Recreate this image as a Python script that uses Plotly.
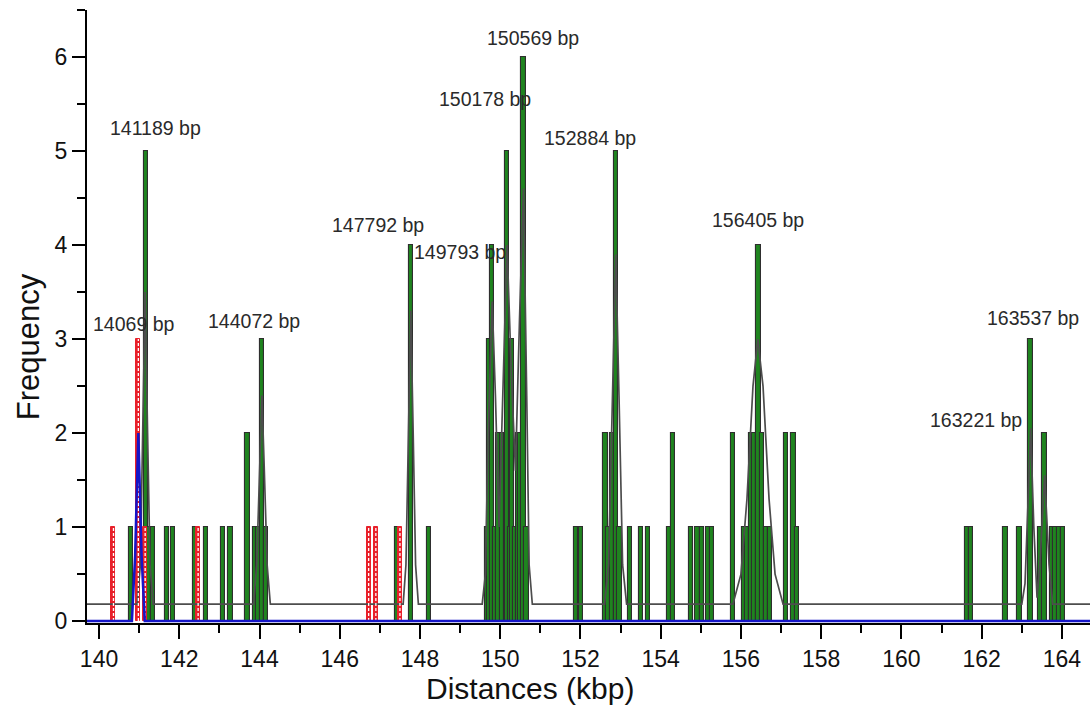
import plotly.graph_objects as go

# ---- data ----
green_x = [140.79, 141.17, 141.23, 141.34, 141.69, 141.85, 142.39, 142.67, 143.09, 143.28,
           143.70, 143.89, 143.97, 144.06, 144.16, 147.42, 147.77, 148.22,
           149.67, 149.72, 149.80, 149.88, 149.96, 150.04, 150.17, 150.24, 150.30, 150.38,
           150.45, 150.51, 150.58, 150.65,
           151.89, 152.01, 152.62, 152.70, 152.78, 152.89, 152.97, 153.24, 153.51, 153.68,
           154.22, 154.31, 154.75, 154.92, 155.03, 155.19, 155.28, 155.80, 156.07, 156.15,
           156.25, 156.33, 156.44, 156.52, 156.63, 156.73, 157.12, 157.31, 157.40,
           161.64, 161.74, 162.59, 162.94, 163.22, 163.47, 163.57, 163.76, 163.84, 163.92, 164.03]
green_y = [1, 5, 1, 1, 1, 1, 1, 1, 1, 1,
           2, 1, 1, 3, 1, 1, 4, 1,
           1, 3, 4, 1, 2, 2, 5, 1, 3, 1,
           2, 2, 6, 1,
           1, 1, 2, 1, 2, 5, 1, 1, 1, 1,
           1, 2, 1, 1, 1, 1, 1, 2, 1, 1,
           2, 2, 4, 2, 1, 1, 2, 2, 1,
           1, 1, 1, 1, 3, 1, 2, 1, 1, 1, 1]

red_x = [140.36, 140.98, 141.15, 142.47, 146.72, 146.90, 147.50]
red_y = [1, 3, 1, 1, 1, 1, 1]

fit_x = [139.7, 140.95, 141.03, 141.09, 141.15, 141.21, 141.27, 141.35,
         143.85, 143.93, 144.0, 144.06, 144.12, 144.19, 144.27,
         147.58, 147.65, 147.71, 147.77, 147.83, 147.89, 147.96,
         149.55, 149.63, 149.70, 149.80, 149.88, 149.97, 150.05, 150.17, 150.28, 150.38,
         150.48, 150.58, 150.66, 150.72, 150.80,
         152.60, 152.70, 152.80, 152.88, 152.96, 153.05, 153.15,
         155.80, 156.00, 156.15, 156.30, 156.42, 156.55, 156.70, 156.85, 157.05,
         163.00, 163.08, 163.15, 163.22, 163.30, 163.38, 163.45, 163.57, 163.68, 163.77, 164.70]
fit_y = [0.18, 0.18, 0.6, 2.0, 3.5, 2.0, 0.6, 0.18,
         0.18, 0.6, 1.6, 2.4, 1.6, 0.6, 0.18,
         0.18, 0.6, 2.0, 3.3, 2.0, 0.6, 0.18,
         0.18, 0.5, 2.0, 3.4, 2.4, 1.0, 2.2, 4.0, 2.6, 1.6,
         3.2, 4.6, 2.4, 0.6, 0.18,
         0.18, 0.6, 2.4, 3.9, 2.4, 0.6, 0.18,
         0.18, 0.5, 1.3, 2.5, 3.0, 2.5, 1.3, 0.5, 0.18,
         0.18, 0.4, 1.2, 2.05, 1.0, 0.25, 0.6, 1.55, 0.6, 0.18, 0.18]

blue_x = [139.7, 140.82, 140.90, 140.98, 141.06, 141.14, 164.7]
blue_y = [0, 0, 0.7, 2.0, 0.7, 0, 0]

label_text = ["150569 bp", "150178 bp", "141189 bp", "152884 bp", "147792 bp", "149793 bp",
              "156405 bp", "14069 bp", "144072 bp", "163537 bp", "163221 bp"]
label_x = [150.82, 149.63, 141.40, 152.24, 146.96, 149.00, 156.43, 140.85, 143.87, 163.29, 161.85]
label_y = [6.20, 5.55, 5.25, 5.14, 4.21, 3.93, 4.27, 3.16, 3.19, 3.22, 2.14]

x_title = "Distances (kbp)"
y_title = "Frequency"

FONT = "Liberation Sans, Arial, sans-serif"

fig = go.Figure()

fig.add_trace(go.Bar(x=green_x, y=green_y, width=0.11,
                     marker=dict(color="#1f841f", line=dict(color="#2e2e2e", width=1.1)),
                     showlegend=False, hoverinfo="x+y"))

fig.add_trace(go.Scatter(x=fit_x, y=fit_y, mode="lines",
                         line=dict(color="#4d4d4d", width=1.7), showlegend=False))

fig.add_trace(go.Bar(x=red_x, y=red_y, width=0.1,
                     marker=dict(color="#e8202a", line=dict(color="#e8202a", width=1)),
                     showlegend=False, hoverinfo="x+y"))

# white dashed centre line for the red bars
dash_x, dash_y = [], []
for xv, yv in zip(red_x, red_y):
    dash_x += [xv, xv, None]
    dash_y += [0, yv, None]
fig.add_trace(go.Scatter(x=dash_x, y=dash_y, mode="lines",
                         line=dict(color="white", width=1.3, dash="3px,2px"),
                         showlegend=False, hoverinfo="skip"))

fig.add_trace(go.Scatter(x=blue_x, y=blue_y, mode="lines",
                         line=dict(color="#1515c8", width=2.5), showlegend=False))

for t, xv, yv in zip(label_text, label_x, label_y):
    fig.add_annotation(x=xv, y=yv, text=t, showarrow=False, xanchor="center", yanchor="middle",
                       font=dict(family=FONT, size=19.5, color="#2a2a2a"))

fig.add_annotation(xref="paper", yref="paper", x=0.4417, y=-0.107, text=x_title, showarrow=False,
                   xanchor="center", yanchor="middle", font=dict(family=FONT, size=30, color="#111111"))
fig.add_annotation(xref="paper", yref="paper", x=-0.0588, y=0.45, text=y_title, showarrow=False,
                   textangle=-90, xanchor="center", yanchor="middle",
                   font=dict(family=FONT, size=31, color="#111111"))

fig.update_layout(
    width=1090, height=715,
    margin=dict(l=87, r=0, t=10, b=92, autoexpand=False),
    paper_bgcolor="white", plot_bgcolor="white",
    barmode="overlay", bargap=0,
    font=dict(family=FONT, color="#111111"),
    showlegend=False,
)
fig.update_xaxes(range=[139.7, 164.7], showgrid=False, zeroline=False,
                 showline=True, linecolor="black", linewidth=2,
                 ticks="outside", ticklen=14, tickwidth=2, tickcolor="black",
                 tick0=140, dtick=2, tickfont=dict(family=FONT, size=23, color="#111111"),
                 automargin=False,
                 minor=dict(ticks="outside", ticklen=8, tickwidth=2, tickcolor="black", dtick=1, tick0=140,
                            showgrid=False))
fig.update_yaxes(range=[-0.02, 6.5], showgrid=False, zeroline=False,
                 showline=True, linecolor="black", linewidth=2,
                 ticks="outside", ticklen=13, tickwidth=2, tickcolor="black",
                 tick0=0, dtick=1, tickfont=dict(family=FONT, size=23, color="#111111"),
                 automargin=False,
                 minor=dict(ticks="outside", ticklen=8, tickwidth=2, tickcolor="black", dtick=0.5, tick0=0,
                            showgrid=False))

fig.write_html("out.html", config={"displayModeBar": False},
               post_script="document.body.style.margin='0';")
